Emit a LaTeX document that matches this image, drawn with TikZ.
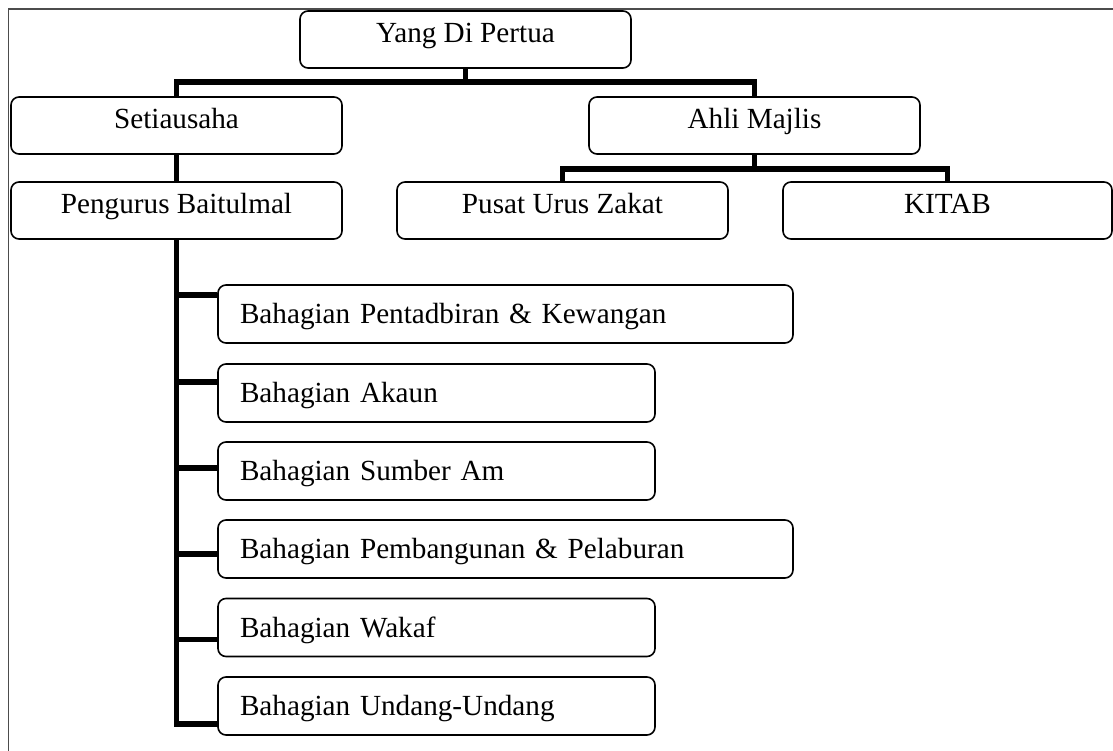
\documentclass[tikz,border=0pt]{standalone}
\usepackage{fontspec}
\setmainfont{Liberation Serif}
\usetikzlibrary{calc}
\begin{document}
\begin{tikzpicture}[x=1pt,y=-1pt,
  box/.style={draw=black, line width=1.6pt, rounded corners=8pt, inner sep=0pt,
    font=\fontsize{29.2}{35}\selectfont},
  topbox/.style={box, minimum width=331pt, minimum height=57pt,
    text height=20pt, text depth=13.6pt},
  subbox/.style={box, minimum height=58pt, inner xsep=22pt,
    text width=#1, align=left, text height=20pt, text depth=0.6pt},
  conn/.style={line width=5.5pt, line join=miter, line cap=rect},
  frame/.style={line width=1.2pt, draw=black!70}]
\useasboundingbox (0,0) rectangle (1113,751);
% outer frame (cut off at right and bottom)
\coordinate (fa) at (8.5,751);
\coordinate (fb) at (8.5,9);
\coordinate (fc) at (1113,9);
\draw[frame] (fa) -- (fb) -- (fc);
% top levels
\node[topbox] (yang) at (465.5,39.5) {Yang Di Pertua};
\node[topbox] (seti) at (176.5,125.5) {Setiausaha};
\node[topbox] (ahli) at (754.5,125.5) {Ahli Majlis};
\node[topbox] (peng) at (176.5,210.5) {Pengurus Baitulmal};
\node[topbox] (pusat) at (562.5,210.5) {Pusat Urus Zakat};
\node[topbox, minimum width=329pt] (kitab) at (947.5,210.5) {KITAB};
% sub boxes
\node[subbox=531pt] (b1) at (505.5,314) {Bahagian Pentadbiran \& Kewangan};
\node[subbox=393pt] (b2) at (436.5,393) {Bahagian Akaun};
\node[subbox=393pt] (b3) at (436.5,471) {Bahagian Sumber Am};
\node[subbox=531pt] (b4) at (505.5,549) {Bahagian Pembangunan \& Pelaburan};
\node[subbox=393pt] (b5) at (436.5,627.5) {Bahagian Wakaf};
\node[subbox=393pt] (b6) at (436.5,706) {Bahagian Undang-Undang};
% junctions
\coordinate (j1) at (465.5,82);
\coordinate (j2) at (754.5,169);
\coordinate (c1) at ($(b1.north west)+(0,11)$);
\coordinate (c2) at ($(b2.north west)+(0,19)$);
\coordinate (c3) at ($(b3.north west)+(0,27)$);
\coordinate (c4) at ($(b4.north west)+(0,35)$);
\coordinate (c5) at ($(b5.north west)+(0,42)$);
\coordinate (c6) at ($(b6.north west)+(0,48)$);
% connectors
\draw[conn, line cap=butt] (yang.south) -- (j1);
\draw[conn, line cap=butt] (seti.north) |- (j1) -| (ahli.north);
\draw[conn, line cap=butt] (seti.south) -- (peng.north);
\draw[conn, line cap=butt] (ahli.south) -- (j2);
\draw[conn, line cap=butt] (pusat.north) |- (j2) -| (kitab.north);
\draw[conn, line cap=butt] (peng.south) |- (c6);
\draw[conn, line cap=butt] (peng.south |- c1) -- (c1);
\draw[conn, line cap=butt] (peng.south |- c2) -- (c2);
\draw[conn, line cap=butt] (peng.south |- c3) -- (c3);
\draw[conn, line cap=butt] (peng.south |- c4) -- (c4);
\draw[conn, line cap=butt] (peng.south |- c5) -- (c5);
\end{tikzpicture}
\end{document}
